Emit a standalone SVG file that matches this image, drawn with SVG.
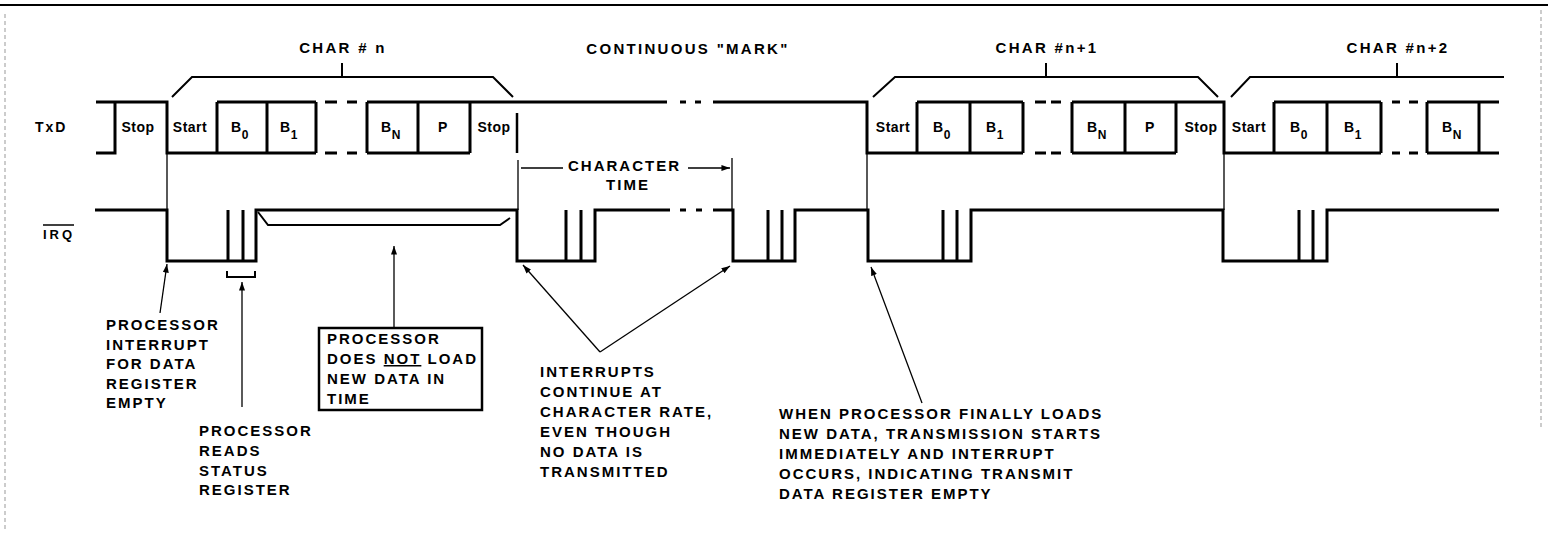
<svg xmlns="http://www.w3.org/2000/svg" width="1548" height="537" viewBox="0 0 1548 537">
<style>
.sig{stroke:#000;stroke-width:3;fill:none;stroke-linejoin:miter}
.thin{stroke:#000;stroke-width:1.3;fill:none}
.br{stroke:#000;stroke-width:2;fill:none}
.frame{stroke:#000;stroke-width:2.2;fill:none}
.dash{stroke:#999;stroke-width:1;fill:none;stroke-dasharray:4 3}
text{font-family:"Liberation Sans",Arial,sans-serif;font-weight:bold;fill:#000}
.t{font-size:15px;letter-spacing:2px}
.bit{font-size:14px;letter-spacing:0.5px;text-anchor:middle}
.sub{font-size:12px}
.mid{text-anchor:middle}
</style>
<defs>
<marker id="ah" viewBox="0 0 10 7" refX="10" refY="3.5" markerWidth="9" markerHeight="6" markerUnits="userSpaceOnUse" orient="auto">
<path d="M0,0 L10,3.5 L0,7 z" fill="#000"/>
</marker>
</defs>
<rect width="1548" height="537" fill="#fff"/>
<g id="frame">
<path class="frame" d="M0,5 H1548"/>
<path class="dash" d="M5,14 V530"/>
<path class="dash" d="M1541,10 V430"/>
</g>
<g id="txd-label"><text class="t" x="35" y="132" style="font-size:14px">TxD</text></g>
<g id="irq-label"><text class="t" x="43" y="239" style="font-size:13px;letter-spacing:3px">IRQ</text><path d="M43,225 H74" stroke="#000" stroke-width="1.5"/></g>
<g id="txd-signal">
<path class="sig" d="M96,102 H167 V153 H316 M96,153 H115 V102 M217,102 H316 M217,102 V153 M267,102 V153 M316,102 V153"/>
<path class="sig" d="M325,102 H337 M347,102 H357 M325,153 H337 M347,153 H357"/>
<path class="sig" d="M367,153 H470 M367,102 H667 M367,102 V153 M418,102 V153 M470,102 V153"/>
<path class="sig" d="M680,102 H686 M695,102 H701"/>
<path class="sig" d="M713,102 H867 V153 H1023 M917,102 H1023 M917,102 V153 M970,102 V153 M1023,102 V153"/>
<path class="sig" d="M1035,102 H1046 M1051,102 H1061 M1035,153 H1046 M1051,153 H1061"/>
<path class="sig" d="M1072,153 H1176 M1072,102 H1224 V153 H1381 M1072,102 V153 M1125,102 V153 M1176,102 V153 M1274,102 H1381 M1274,102 V153 M1327,102 V153 M1381,102 V153"/>
<path class="sig" d="M1392,102 H1400 M1409,102 H1418 M1392,153 H1400 M1409,153 H1418"/>
<path class="sig" d="M1427,102 H1499 M1427,153 H1499 M1427,102 V153 M1479,102 V153"/>
<path d="M517,113 V153" stroke="#000" stroke-width="2.5"/>
</g>
<g id="txd-bits">
<text class="bit" x="138" y="132">Stop</text>
<text class="bit" x="190" y="132">Start</text>
<text class="bit" x="240" y="132">B<tspan class="sub" dy="7">0</tspan></text>
<text class="bit" x="289" y="132">B<tspan class="sub" dy="7">1</tspan></text>
<text class="bit" x="391" y="132">B<tspan class="sub" dy="7">N</tspan></text>
<text class="bit" x="443" y="132">P</text>
<text class="bit" x="494" y="132">Stop</text>
<text class="bit" x="893" y="132">Start</text>
<text class="bit" x="942" y="132">B<tspan class="sub" dy="7">0</tspan></text>
<text class="bit" x="995" y="132">B<tspan class="sub" dy="7">1</tspan></text>
<text class="bit" x="1097" y="132">B<tspan class="sub" dy="7">N</tspan></text>
<text class="bit" x="1150" y="132">P</text>
<text class="bit" x="1201" y="132">Stop</text>
<text class="bit" x="1249" y="132">Start</text>
<text class="bit" x="1299" y="132">B<tspan class="sub" dy="7">0</tspan></text>
<text class="bit" x="1353" y="132">B<tspan class="sub" dy="7">1</tspan></text>
<text class="bit" x="1452" y="132">B<tspan class="sub" dy="7">N</tspan></text>
</g>
<g id="irq-signal">
<path class="sig" d="M95,210 H167 V261 H256 V210 H517 V261 H595 V210 H670 M228,210 V261 M243,210 V261 M566,210 V261 M581,210 V261"/>
<path class="sig" d="M680,210 H686 M696,210 H702"/>
<path class="sig" d="M713,210 H733 V261 H795 V210 H868 V261 H971 V210 H1223 V261 H1327 V210 H1499 M768,210 V261 M782,210 V261 M943,210 V261 M957,210 V261 M1299,210 V261 M1313,210 V261"/>
</g>
<g id="char-n">
<path class="br" d="M172,97 L192,77 H493 L513,97 M342,63 V77"/>
<text class="t mid" x="343" y="53" style="letter-spacing:2.3px">CHAR # n</text>
</g>
<g id="continuous-mark"><text class="t mid" x="688" y="54" style="letter-spacing:2.3px">CONTINUOUS "MARK"</text></g>
<g id="char-n1">
<path class="br" d="M873,97 L895,77 H1198 L1218,97 M1046,63 V77"/>
<text class="t mid" x="1047" y="53" style="letter-spacing:2.3px">CHAR #n+1</text>
</g>
<g id="char-n2">
<path class="br" d="M1231,97 L1250,77 H1504 M1397,63 V77"/>
<text class="t mid" x="1398" y="53" style="letter-spacing:2.3px">CHAR #n+2</text>
</g>
<g id="character-time">
<text class="t" x="568" y="171">CHARACTER</text>
<text class="t mid" x="628" y="190">TIME</text>
</g>
<g id="note-interrupt">
<text class="t" x="106" y="330">PROCESSOR</text>
<text class="t" x="106" y="349.5">INTERRUPT</text>
<text class="t" x="106" y="369">FOR DATA</text>
<text class="t" x="106" y="388.5">REGISTER</text>
<text class="t" x="106" y="408">EMPTY</text>
</g>
<g id="note-reads-status">
<text class="t" x="199" y="436">PROCESSOR</text>
<text class="t" x="199" y="456">READS</text>
<text class="t" x="199" y="475.5">STATUS</text>
<text class="t" x="199" y="495">REGISTER</text>
</g>
<g id="note-not-load">
<rect x="319" y="328" width="163" height="82" fill="none" stroke="#000" stroke-width="2.5"/>
<text class="t" x="327" y="344">PROCESSOR</text>
<text class="t" x="327" y="364">DOES <tspan text-decoration="underline">NOT</tspan> LOAD</text>
<text class="t" x="327" y="384">NEW DATA IN</text>
<text class="t" x="327" y="404">TIME</text>
</g>
<g id="note-char-rate">
<text class="t" x="540" y="377">INTERRUPTS</text>
<text class="t" x="540" y="397">CONTINUE AT</text>
<text class="t" x="540" y="417">CHARACTER RATE,</text>
<text class="t" x="540" y="437">EVEN THOUGH</text>
<text class="t" x="540" y="457">NO DATA IS</text>
<text class="t" x="540" y="477">TRANSMITTED</text>
</g>
<g id="note-finally-loads">
<text class="t" x="779" y="419">WHEN PROCESSOR FINALLY LOADS</text>
<text class="t" x="779" y="439">NEW DATA, TRANSMISSION STARTS</text>
<text class="t" x="779" y="459">IMMEDIATELY AND INTERRUPT</text>
<text class="t" x="779" y="479">OCCURS, INDICATING TRANSMIT</text>
<text class="t" x="779" y="499">DATA REGISTER EMPTY</text>
</g>
<g id="connectors">
<path class="thin" d="M167,153 V210 M518,160 V210 M732,158 V210 M867,153 V210 M1224,153 V210"/>
<path class="thin" d="M563,168 H521 M688,168 H730" marker-end="url(#ah)"/>
<path class="br" d="M227,271 V277 H255 V271"/>
<path class="br" d="M258,212 L268,225 H500 L510,218"/>
<path class="thin" d="M160,313 L167,264" marker-end="url(#ah)"/>
<path class="thin" d="M242,407 V282" marker-end="url(#ah)"/>
<path class="thin" d="M394,327 V246" marker-end="url(#ah)"/>
<path class="thin" d="M600,352 L523,265" marker-end="url(#ah)"/>
<path class="thin" d="M600,352 L730,266" marker-end="url(#ah)"/>
<path class="thin" d="M922,403 L871,267" marker-end="url(#ah)"/>
</g>
</svg>
